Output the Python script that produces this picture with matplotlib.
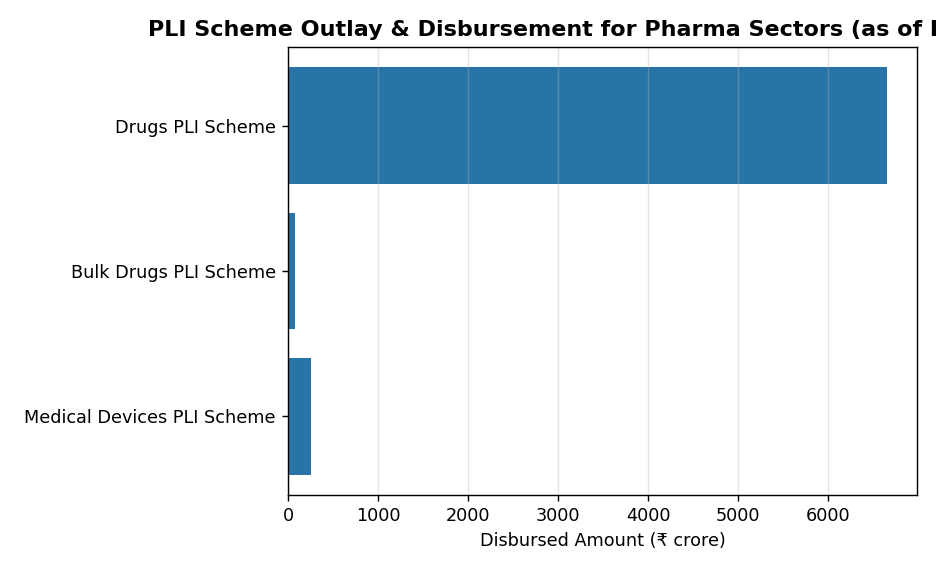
import matplotlib
matplotlib.use('Agg')
import matplotlib.pyplot as plt

# Disbursed amounts (Rs crore)
schemes = ['Drugs PLI Scheme', 'Bulk Drugs PLI Scheme', 'Medical Devices PLI Scheme']
disbursed = [6650, 80, 255]

fig, ax = plt.subplots(figsize=(936 / 127, 572 / 127), dpi=127)
ax.barh(schemes, disbursed, color='#2874a6')
ax.invert_yaxis()
ax.xaxis.grid(True, color='#b5b5b5', alpha=0.35)
ax.set_xlabel('Disbursed Amount (₹ crore)')
ax.set_title('PLI Scheme Outlay & Disbursement for Pharma Sectors (as of Dec 2024)',
             fontsize=12.6, fontweight='bold')
fig.subplots_adjust(left=0.3077, right=0.9797, top=0.9178, bottom=0.1346)
fig.savefig('out.png')
